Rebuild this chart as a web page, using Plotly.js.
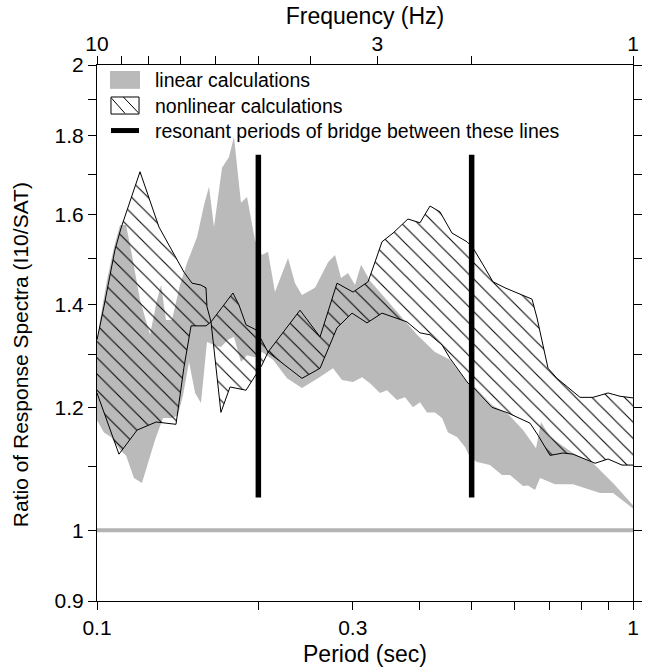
<!DOCTYPE html>
<html>
<head>
<meta charset="utf-8">
<script src="https://cdn.plot.ly/plotly-3.0.1.min.js"></script>
<style>
  html, body { margin: 0; padding: 0; background: #ffffff; }
  #chart { width: 645px; height: 669px; }
</style>
</head>
<body>
<div id="chart"></div>
<script>
// ---------------- data ----------------
// Linear calculations: envelope of the grey band
const linPeriodUpper = [0.1000,0.1013,0.1044,0.1076,0.1104,0.1133,0.1162,0.1203,0.1256,0.1294,0.1317,0.1345,0.1380,0.1428,0.1472,0.1537,0.1584,0.1618,0.1653,0.1711,0.1763,0.1801,0.1856,0.1905,0.1971,0.2031,0.2085,0.2148,0.2272,0.2341,0.2412,0.2551,0.2698,0.2780,0.2853,0.2940,0.3029,0.3109,0.3231,0.3567,0.3954,0.4271,0.4556,0.4922,0.5072,0.5456,0.5844,0.6235,0.6593,0.6736,0.7002,0.7729,0.8423,0.9177,1.0];
const linRatioUpper  = [1.318,1.368,1.452,1.525,1.576,1.576,1.507,1.409,1.338,1.409,1.441,1.368,1.368,1.441,1.489,1.548,1.624,1.668,1.571,1.716,1.744,1.797,1.629,1.643,1.541,1.507,1.514,1.426,1.500,1.445,1.420,1.435,1.491,1.507,1.456,1.467,1.441,1.485,1.450,1.395,1.338,1.304,1.289,1.245,1.238,1.205,1.189,1.161,1.130,1.175,1.149,1.122,1.105,1.073,1.038];

const linPeriodLower = [0.1000,0.1030,0.1062,0.1104,0.1133,0.1172,0.1213,0.1245,0.1283,0.1328,0.1380,0.1416,0.1447,0.1485,0.1524,0.1563,0.1604,0.1653,0.1703,0.1755,0.1801,0.1856,0.1905,0.1971,0.2031,0.2130,0.2262,0.2412,0.2584,0.2756,0.2865,0.3004,0.3122,0.3231,0.3373,0.3476,0.3628,0.3755,0.3886,0.4005,0.4127,0.4271,0.4402,0.4517,0.4695,0.4859,0.4965,0.5116,0.5410,0.5696,0.5895,0.6235,0.6371,0.6565,0.6707,0.7154,0.7729,0.8680,0.9177,1.0];
const linRatioLower  = [1.178,1.157,1.149,1.127,1.118,1.081,1.073,1.107,1.144,1.182,1.182,1.187,1.223,1.285,1.227,1.209,1.324,1.318,1.314,1.328,1.334,1.285,1.298,1.294,1.304,1.289,1.254,1.236,1.254,1.273,1.251,1.247,1.256,1.245,1.227,1.232,1.214,1.219,1.201,1.210,1.192,1.192,1.182,1.157,1.149,1.132,1.115,1.107,1.102,1.086,1.086,1.068,1.069,1.062,1.081,1.071,1.071,1.057,1.057,1.033];

// Nonlinear calculations: the two bounding curves of the hatched band
const nlPeriodUpper = [0.1000,0.1030,0.1080,0.1109,0.1203,0.1250,0.1305,0.1453,0.1504,0.1563,0.1597,0.1604,0.1632,0.1793,0.1840,0.1897,0.1980,0.2085,0.2392,0.2607,0.2804,0.3004,0.3204,0.3301,0.3402,0.3567,0.3803,0.4005,0.4181,0.4364,0.4595,0.4901,0.5029,0.5295,0.5480,0.5770,0.6481,0.6621,0.6942,0.7216,0.7404,0.7965,0.8423,0.8984,0.9457,1.0];
const nlRatioUpper  = [1.328,1.395,1.518,1.569,1.706,1.641,1.571,1.469,1.445,1.441,1.435,1.395,1.364,1.424,1.399,1.358,1.348,1.304,1.388,1.334,1.445,1.426,1.448,1.491,1.537,1.557,1.590,1.581,1.621,1.607,1.557,1.537,1.523,1.478,1.448,1.435,1.411,1.372,1.273,1.254,1.245,1.219,1.219,1.227,1.221,1.218];

const nlPeriodLower = [0.1000,0.1099,0.1188,0.1289,0.1404,0.1453,0.1498,0.1597,0.1632,0.1703,0.1771,0.1897,0.1988,0.2031,0.2085,0.2412,0.2607,0.2804,0.2991,0.3190,0.3402,0.3787,0.4005,0.4181,0.4402,0.4556,0.4922,0.5029,0.5456,0.5844,0.6425,0.6650,0.7002,0.7404,0.7729,0.8209,0.8496,0.8984,0.9539,1.0];
const nlRatioLower  = [1.227,1.120,1.161,1.175,1.171,1.275,1.356,1.356,1.364,1.192,1.238,1.232,1.264,1.279,1.304,1.254,1.273,1.352,1.382,1.362,1.382,1.364,1.342,1.338,1.318,1.292,1.245,1.238,1.201,1.191,1.173,1.152,1.118,1.122,1.120,1.110,1.105,1.112,1.102,1.102];

// Resonant periods of the bridge (vertical bars) and their vertical extent
const resonantPeriods = [0.2, 0.5];
const resonantRatioRange = [1.05, 1.75];

// Reference ratio line
const unityRatio = 1;

// Tick values and labels
const periodTicks  = [0.1,0.2,0.3,0.4,0.5,0.6,0.7,0.8,0.9,1];
const periodLabels = ['0.1','','0.3','','','','','','','1'];
const freqTicks    = [10,9,8,7,6,5,4,3,2,1];
const freqLabels   = ['10','','','','','','','3','','1'];
const ratioTicks   = [0.9,1,1.1,1.2,1.3,1.4,1.5,1.6,1.7,1.8,1.9,2];
const ratioLabels  = ['0.9','1','','1.2','','1.4','','1.6','','1.8','','2'];

// Texts
const legendLabels = ['linear calculations','nonlinear calculations','resonant periods of bridge between these lines'];
const yTitle = 'Ratio of Response Spectra (I10/SAT)';

// ---------------- styling ----------------
const FONT = 'Liberation Sans, Arial, Helvetica, sans-serif';
const GREY = '#bababa';

const resX = [], resY = [];
resonantPeriods.forEach(function (p, i) {
  if (i > 0) { resX.push(null); resY.push(null); }
  resX.push(p, p); resY.push(resonantRatioRange[0], resonantRatioRange[1]);
});

const traces = [
  { x: linPeriodLower, y: linRatioLower, mode: 'lines', line: { width: 0, color: GREY },
    hoverinfo: 'skip', showlegend: false },
  { x: linPeriodUpper, y: linRatioUpper, mode: 'lines', line: { width: 0, color: GREY },
    fill: 'tonexty', fillcolor: GREY, hoverinfo: 'skip', showlegend: false },
  { x: [periodTicks[0], periodTicks[periodTicks.length - 1]], y: [unityRatio, unityRatio],
    mode: 'lines', line: { width: 4, color: '#b3b3b3' }, hoverinfo: 'skip', showlegend: false },
  { x: nlPeriodLower, y: nlRatioLower, mode: 'lines', line: { width: 1, color: 'black' },
    hoverinfo: 'skip', showlegend: false },
  { x: nlPeriodUpper, y: nlRatioUpper, mode: 'lines', line: { width: 1, color: 'black' },
    fill: 'tonexty', fillcolor: 'rgba(0,0,0,0)',
    fillpattern: { shape: '\\', size: 11.5, solidity: 0.09, fgcolor: 'black', bgcolor: 'rgba(0,0,0,0)', fillmode: 'replace' },
    hoverinfo: 'skip', showlegend: false },
  { x: resX, y: resY, mode: 'lines', line: { width: 5.5, color: 'black' },
    hoverinfo: 'skip', showlegend: false },
  { x: [1 / freqTicks[0], 1 / freqTicks[freqTicks.length - 1]], y: [unityRatio, unityRatio],
    xaxis: 'x2', yaxis: 'y', mode: 'lines', line: { width: 0 }, opacity: 0,
    hoverinfo: 'skip', showlegend: false }
];

// legend drawn in paper coordinates
const shapes = [
  { type: 'rect', xref: 'paper', yref: 'paper', x0: 0.0243, x1: 0.0802, y0: 0.9555, y1: 0.9888,
    fillcolor: GREY, line: { width: 0 } },
  { type: 'rect', xref: 'paper', yref: 'paper', x0: 0.0261, x1: 0.0784, y0: 0.9085, y1: 0.9403,
    fillcolor: 'rgba(0,0,0,0)', line: { width: 1, color: 'black' } },
  { type: 'line', xref: 'paper', yref: 'paper', x0: 0.0274, y0: 0.9378, x1: 0.0522, y1: 0.9098,
    line: { width: 1, color: 'black' } },
  { type: 'line', xref: 'paper', yref: 'paper', x0: 0.0491, y0: 0.9403, x1: 0.0771, y1: 0.9109,
    line: { width: 1, color: 'black' } },
  { type: 'line', xref: 'paper', yref: 'paper', x0: 0.0261, y0: 0.8777, x1: 0.0784, y1: 0.8777,
    line: { width: 5, color: 'black' } }
];
const legendY = [0.972, 0.9244, 0.8777];
const annotations = legendLabels.map(function (t, i) {
  return { text: t, xref: 'paper', yref: 'paper', x: 0.1045, y: legendY[i],
    xanchor: 'left', yanchor: 'middle', showarrow: false,
    font: { family: FONT, size: 19.5, color: 'black' } };
});
annotations.push({ text: yTitle, xref: 'paper', yref: 'paper', x: -0.1437, y: 0.4604,
  xanchor: 'center', yanchor: 'middle', textangle: -90, showarrow: false,
  font: { family: FONT, size: 21, color: 'black' } });

const axisCommon = {
  ticks: 'outside', ticklen: 8, tickwidth: 1, tickcolor: 'black',
  showline: true, linecolor: 'black', linewidth: 1,
  showgrid: false, zeroline: false,
  tickfont: { family: FONT, size: 21, color: 'black' }
};

const layout = {
  width: 645, height: 669,
  margin: { l: 97, r: 12, t: 65, b: 68, pad: 0 },
  paper_bgcolor: 'white', plot_bgcolor: 'white',
  showlegend: false,
  font: { family: FONT, size: 21, color: 'black' },
  xaxis: Object.assign({}, axisCommon, {
    type: 'log', range: [-1, 0], tickmode: 'array',
    tickvals: periodTicks, ticktext: periodLabels, mirror: false,
    title: { text: 'Period (sec)', font: { family: FONT, size: 23, color: 'black' }, standoff: 7 }
  }),
  xaxis2: Object.assign({}, axisCommon, {
    type: 'log', range: [-1, 0], overlaying: 'x', side: 'top', anchor: 'y',
    ticklabelstandoff: -3,
    tickmode: 'array', tickvals: freqTicks.map(function (f) { return 1 / f; }), ticktext: freqLabels,
    title: { text: 'Frequency (Hz)', font: { family: FONT, size: 23, color: 'black' }, standoff: 0 }
  }),
  yaxis: Object.assign({}, axisCommon, {
    type: 'log', range: [Math.log10(0.9), Math.log10(2)], tickmode: 'array',
    tickvals: ratioTicks, ticktext: ratioLabels, mirror: 'ticks'
  }),
  shapes: shapes,
  annotations: annotations
};

Plotly.newPlot('chart', traces, layout, { staticPlot: true, displayModeBar: false });
</script>
</body>
</html>
